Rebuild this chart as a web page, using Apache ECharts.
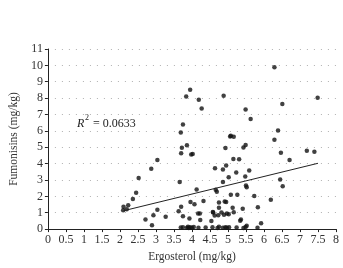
<!DOCTYPE html>
<html>
<head>
<meta charset="utf-8">
<script src="https://cdn.jsdelivr.net/npm/echarts@6/dist/echarts.min.js"></script>
<style>html,body{margin:0;padding:0;background:#fff}#c{width:343px;height:268px}</style>
</head>
<body>
<div id="c"></div>
<script>
// Ergosterol (mg/kg) values
const ergosterol = [
  3.95,3.84,4.19,4.27,3.75,3.69,3.86,3.72,4.88,5.06,
  6.29,7.49,6.51,5.49,5.63,6.39,5.08,5.16,6.29,5.49,5.43,4.93,
  6.47,6.71,7.19,7.40,3.70,3.98,4.02,
  3.04,2.87,2.52,2.45,2.36,2.23,2.10,2.09,2.19,
  3.66,4.13,4.86,4.66,4.69,
  4.64,4.86,4.95,5.15,5.31,5.02,5.23,5.48,5.50,5.52,5.59,6.45,6.52,
  5.08,5.26,5.73,4.91,6.19,5.83,5.13,5.41,5.16,5.02,5.36,5.34,5.92,4.89,5.52,
  2.71,2.89,2.93,3.04,3.27,3.63,3.70,3.75,3.93,3.96,4.07,4.32,4.17,4.22,4.23,4.54,4.59,4.75,4.75,4.82,4.73,4.97,4.63,4.58,4.95,
  3.69,3.75,3.86,3.89,3.91,3.95,4.00,4.05,4.18,4.38,4.57,4.71,4.75,4.86,4.93,4.97,5.03,5.24,5.43,5.49,5.82
];
// Fumonisins (mg/kg) values
const fumonisins = [
  8.51,8.10,7.90,7.36,6.39,5.90,5.12,4.97,8.15,5.66,
  9.88,8.02,7.64,7.30,6.73,6.02,5.70,5.64,5.45,5.13,4.99,4.95,
  4.67,4.22,4.79,4.73,4.63,4.55,4.59,
  4.22,3.68,3.12,2.22,1.84,1.46,1.36,1.15,1.21,
  2.87,2.42,2.87,2.40,2.28,
  3.72,3.64,3.88,4.28,4.26,3.17,3.46,3.22,2.67,2.55,3.58,3.03,2.61,
  2.10,2.10,2.02,1.68,1.80,1.33,1.30,1.25,1.03,0.91,0.59,0.51,0.35,0.87,0.20,
  0.59,0.24,0.85,1.18,0.75,1.09,1.36,0.79,0.65,1.66,1.52,1.72,0.95,0.95,0.55,0.49,1.01,1.62,1.30,1.01,0.85,0.95,0.83,1.05,1.66,
  0.10,0.12,0.08,0.14,0.07,0.11,0.09,0.13,0.08,0.10,0.12,0.07,0.14,0.09,0.11,0.08,0.12,0.10,0.07,0.13,0.09
];
// linear trend line end points
const trendX = [2.10, 7.50];
const trendY = [1.12, 4.02];
const rSquared = '0.0633';

const pts = ergosterol.map((x, i) => [x, fumonisins[i]]);
const trend = trendX.map((x, i) => [x, trendY[i]]);

const serif = 'Liberation Serif';
const chart = echarts.init(document.getElementById('c'), null, {renderer: 'canvas'});
chart.setOption({
  animation: false,
  backgroundColor: '#fff',
  grid: {left: 42, right: 7, top: 49, bottom: 37},
  xAxis: {
    type: 'value', min: 0, max: 8, interval: 0.5,
    name: 'Ergosterol (mg/kg)', nameLocation: 'middle', nameGap: 20,
    nameTextStyle: {fontFamily: serif, fontSize: 11.5, color: '#333'},
    axisLine: {show: true, lineStyle: {color: '#222', width: 1}},
    axisTick: {show: true, length: 3, lineStyle: {color: '#222'}},
    axisLabel: {fontFamily: serif, fontSize: 12, color: '#333', margin: 5,
      formatter: v => String(v)},
    splitLine: {show: false}
  },
  yAxis: {
    type: 'value', min: 0, max: 11, interval: 1,
    name: 'Fumonisins (mg/kg)', nameLocation: 'middle', nameGap: 23, nameRotate: 90,
    nameTextStyle: {fontFamily: serif, fontSize: 11.5, color: '#333'},
    axisLine: {show: true, lineStyle: {color: '#222', width: 1}},
    axisTick: {show: true, length: 3, lineStyle: {color: '#222'}},
    axisLabel: {fontFamily: serif, fontSize: 12, color: '#333', margin: 5},
    splitLine: {show: true, lineStyle: {color: '#b0b0b0', width: 1, type: [1, 6]}}
  },
  series: [
    {type: 'scatter', data: pts, symbol: 'circle', symbolSize: 4.5,
     itemStyle: {color: '#111'}},
    {type: 'line', data: trend, symbol: 'none', lineStyle: {color: '#222', width: 1}}
  ],
  graphic: [
    {type: 'text', left: 77, top: 118, style: {text: 'R', font: 'italic 12px "Liberation Serif"', fill: '#222'}},
    {type: 'text', left: 85, top: 114, style: {text: '2', font: '8px "Liberation Serif"', fill: '#222'}},
    {type: 'text', left: 90, top: 118, style: {text: ' = ' + rSquared, font: '12px "Liberation Serif"', fill: '#222'}}
  ]
});
</script>
</body>
</html>
